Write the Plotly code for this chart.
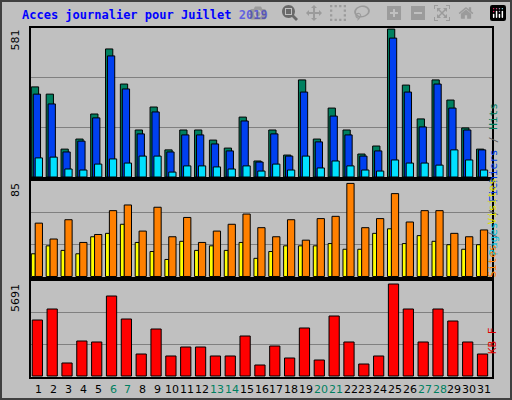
import plotly.graph_objects as go

days = list(range(1, 32))
weekend = [6, 7, 13, 14, 20, 21, 27, 28]
hits_y = [87,94,149,139,114,49,84,130,107,150,130,130,140,148,117,161,130,155,80,139,108,130,154,146,29,85,119,80,100,128,149]
files_y = [94,104,152,141,118,56,89,134,112,152,135,135,144,151,121,162,134,156,92,142,116,135,156,151,38,92,127,84,108,130,150]
pages_y = [158,157,169,170,164,159,163,156,156,172,166,166,167,169,166,171,164,170,156,168,161,166,170,171,160,163,163,165,150,160,170]
visits_y = [224,240,220,243,235,211,206,232,208,238,218,243,232,225,215,228,237,221,241,219,217,184,228,219,195,223,212,212,234,237,231]
sites_y = [254,246,251,254,237,234,225,243,252,260,242,251,246,251,243,259,252,246,246,246,244,250,250,234,230,244,236,242,245,250,245]
kb_y = [320,309,363,341,342,296,319,354,329,356,347,347,356,356,336,365,346,358,328,360,316,342,364,356,284,309,342,309,321,342,354]

# values
hits = [round((177 - v) * 581 / 150) for v in hits_y]
files = [round((177 - v) * 581 / 150) for v in files_y]
pages = [round((177 - v) * 581 / 150) for v in pages_y]
visits = [round((277 - v) * 85 / 96) for v in visits_y]
sites = [round((277 - v) * 85 / 96) for v in sites_y]
kb = [round((376 - v) * 5691 / 96) for v in kb_y]

W, H = 512, 400
def py(y): return 1 - y / H
def px(x): return x / W

fig = go.Figure()
ln = dict(color='black', width=1)
def bar(y, color, off, w, ax):
    fig.add_trace(go.Bar(x=days, y=y, offset=off, width=w, marker=dict(color=color, line=ln),
                         yaxis=ax, xaxis='x', showlegend=False))

bar(hits, '#008060', -0.51, 0.49, 'y')
bar(files, '#0040f0', -0.38, 0.49, 'y')
bar(pages, '#00e0ff', -0.25, 0.49, 'y')
bar(sites, '#ffff00', -0.51, 0.27, 'y2')
bar(visits, '#ff8000', -0.25, 0.49, 'y2')
bar(kb, '#ff0000', -0.45, 0.69, 'y3')

gx = dict(showgrid=True, gridcolor='#808080', gridwidth=1, showticklabels=False, zeroline=False, ticks='')
fig.update_layout(
    width=W, height=H, margin=dict(l=0, r=0, t=0, b=0),
    paper_bgcolor='#c0c0c0', plot_bgcolor='#c0c0c0', barmode='overlay',
    xaxis=dict(domain=[px(30), px(493)], range=[0.4, 31.6], showticklabels=False, showgrid=False,
               zeroline=False, anchor='y3'),
    yaxis=dict(domain=[py(178), py(27)], range=[-581 * 1 / 150, 581], tickvals=[581 / 3, 581 * 2 / 3], **gx),
    yaxis2=dict(domain=[py(278), py(180)], range=[-85 * 1.5 / 96, 85], tickvals=[85 / 3, 85 * 2 / 3], **gx),
    yaxis3=dict(domain=[py(378), py(280)], range=[-5691 * 2 / 96, 5691], tickvals=[5691 / 3, 5691 * 2 / 3], **gx),
    font=dict(family='DejaVu Sans', size=11, color='black'),
)
shapes = [dict(type='rect', xref='paper', yref='paper', x0=px(1), x1=px(511), y0=py(399), y1=py(1),
               line=dict(color='#404040', width=2))]
for a, b in [(27, 178), (180, 278), (280, 378)]:
    shapes.append(dict(type='rect', xref='paper', yref='paper', x0=px(30), x1=px(493), y0=py(b), y1=py(a),
                       line=dict(color='black', width=2), layer='above'))
fig.update_layout(shapes=shapes)

ann = [dict(text='<b>Acces journalier pour Juillet 2019</b>', x=px(20), y=py(15), xref='paper', yref='paper',
            xanchor='left', yanchor='middle', showarrow=False,
            font=dict(family='DejaVu Sans Mono', size=12, color='#0000ff'))]
for lab, yy in [('581', 28), ('85', 181), ('5691', 282)]:
    ann.append(dict(text=lab, textangle=-90, x=px(15), y=py(yy), xref='paper', yref='paper',
                    xanchor='center', yanchor='top', showarrow=False, font=dict(size=11)))
for d in days:
    ann.append(dict(text=str(d), x=d, y=py(389), xref='x', yref='paper', showarrow=False,
                    xanchor='center', yanchor='middle',
                    font=dict(size=11, color='#008060' if d in weekend else 'black')))
ann.append(dict(text="<span style='color:#00c0e0'>Pages</span> / <span style='color:#0040f0'>Fichiers</span> / <span style='color:#008060'>Hits</span>",
                textangle=-90, x=px(501), y=py(102), xref='paper', yref='paper', showarrow=False,
                font=dict(family='DejaVu Sans Mono', size=11, color='#606060')))
ann.append(dict(text="<span style='color:#ff8000'>Sites</span> / <span style='color:#e0e000'>Visites</span>",
                textangle=-90, x=px(501), y=py(228), xref='paper', yref='paper', showarrow=False,
                font=dict(family='DejaVu Sans Mono', size=11, color='#606060')))
ann.append(dict(text="KB F", textangle=-90, x=px(501), y=py(356), xref='paper', yref='paper', showarrow=False,
                font=dict(family='DejaVu Sans Mono', size=11, color='#e00000')))
fig.update_layout(annotations=ann)
fig.write_html("out.html", post_script="document.body.style.margin='0';document.body.style.overflow='hidden';")
